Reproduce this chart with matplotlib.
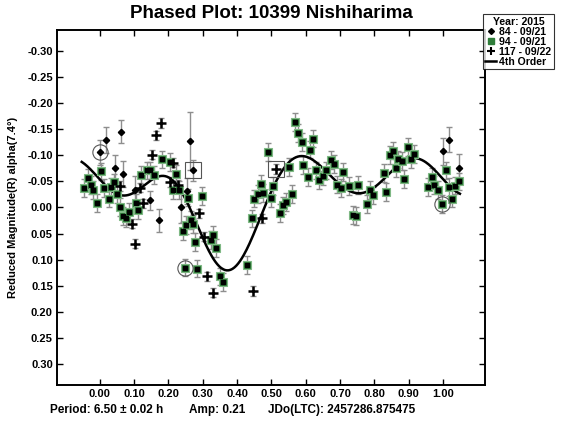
import numpy as np
import matplotlib
matplotlib.use("Agg")
import matplotlib.pyplot as plt
from matplotlib.lines import Line2D

plt.rcParams['font.family'] = ['Liberation Sans', 'DejaVu Sans']
plt.rcParams['font.weight'] = 'bold'

# 84 - 09/21 (diamonds)
d_phase = [0.000, 0.018, 0.063, 0.045, 0.069, 0.103, 0.147, 0.174, 0.236, 0.254, 0.262, 0.271,
           1.001, 1.018, 1.046]
d_mag = [-0.106, -0.129, -0.145, -0.075, -0.065, -0.033, -0.014, 0.024, 0.000, -0.032, -0.127, -0.071,
         -0.108, -0.130, -0.076]
d_err = [0.024, 0.025, 0.022, 0.025, 0.025, 0.028, 0.018, 0.022, 0.030, 0.025, 0.056, 0.020,
         0.026, 0.024, 0.026]

# 94 - 09/21 (green squares)
g_phase = [-0.045, -0.033, -0.026, -0.018, -0.008, 0.005, 0.014, 0.026, 0.032, 0.042, 0.052, 0.060,
           0.068, 0.077, 0.086, 0.105, 0.111, 0.120, 0.137, 0.147, 0.157, 0.183, 0.205, 0.215,
           0.223, 0.231, 0.242, 0.249, 0.252, 0.258, 0.265, 0.273, 0.278, 0.285, 0.297, 0.324,
           0.331, 0.339, 0.351, 0.358, 0.428, 0.443, 0.450, 0.460, 0.469, 0.477, 0.490, 0.498,
           0.506, 0.524, 0.533, 0.543, 0.550, 0.560, 0.569, 0.579, 0.588, 0.593, 0.606, 0.613,
           0.622, 0.630, 0.640, 0.650, 0.659, 0.673, 0.681, 0.692, 0.703, 0.710, 0.727, 0.737,
           0.746, 0.753, 0.778, 0.788, 0.795, 0.827, 0.834, 0.846, 0.854, 0.863, 0.870, 0.880,
           0.887, 0.897, 0.906, 0.914, 0.955, 0.967, 0.974, 0.986, 0.996, 1.008, 1.017, 1.025,
           1.035, 1.046]
g_mag = [-0.038, -0.057, -0.043, -0.033, -0.008, -0.069, -0.038, -0.017, -0.039, -0.048, -0.025, -0.001,
         0.017, 0.020, 0.008, -0.008, 0.005, -0.062, -0.071, -0.071, -0.062, -0.092, -0.087, -0.034,
         -0.065, -0.034, 0.045, 0.115, 0.034, -0.019, 0.024, 0.031, 0.066, 0.117, -0.022, 0.062,
         0.052, 0.078, 0.132, 0.142, 0.110, 0.021, -0.017, -0.026, -0.045, -0.028, -0.107, -0.018,
         -0.041, 0.011, -0.004, -0.010, -0.077, -0.026, -0.164, -0.143, -0.126, -0.082, -0.058, -0.111,
         -0.132, -0.071, -0.052, -0.060, -0.071, -0.091, -0.084, -0.044, -0.037, -0.068, -0.041, 0.014,
         0.017, -0.043, -0.007, -0.033, -0.023, -0.066, -0.029, -0.100, -0.109, -0.075, -0.092, -0.089,
         -0.055, -0.116, -0.093, -0.103, -0.039, -0.058, -0.043, -0.034, -0.007, -0.071, -0.039, -0.017,
         -0.042, -0.050]
g_err = 0.017

# 117 - 09/22 (plus signs)
p_phase = [0.060, 0.094, 0.103, 0.118, 0.127, 0.154, 0.163, 0.179, 0.205, 0.215, 0.229, 0.288,
           0.304, 0.312, 0.331, 0.448, 0.474, 0.514]
p_mag = [-0.041, 0.031, 0.069, -0.038, -0.008, -0.101, -0.138, -0.162, -0.049, -0.086, -0.043, 0.011,
         0.056, 0.132, 0.163, 0.160, 0.021, -0.074]
p_err = 0.009

# flagged points (circled / boxed)
circ_phase = [0.000, 0.249, 0.996]
circ_mag = [-0.106, 0.115, -0.007]
box_phase = [0.271, 0.514]
box_mag = [-0.071, -0.074]

# 4th order fit
curve_phase = [-0.052, 0.000, 0.030, 0.069, 0.110, 0.162, 0.200, 0.244, 0.283, 0.322, 0.365, 0.400,
               0.438, 0.467, 0.506, 0.544, 0.588, 0.661, 0.710, 0.768, 0.797, 0.836, 0.914, 0.972,
               1.010, 1.049]
curve_mag = [-0.086, -0.055, -0.036, -0.020, -0.038, -0.062, -0.052, -0.020, 0.031, 0.082, 0.117, 0.113,
             0.082, 0.010, -0.047, -0.079, -0.093, -0.069, -0.044, -0.025, -0.034, -0.063, -0.095, -0.076,
             -0.047, -0.021]


def fourier_design(ph, order=4):
    ph = np.asarray(ph)
    cols = [np.ones_like(ph)]
    for k in range(1, order + 1):
        cols.append(np.cos(2 * np.pi * k * ph))
        cols.append(np.sin(2 * np.pi * k * ph))
    return np.column_stack(cols)


# least squares fourier fit through the sampled curve
coef, *_ = np.linalg.lstsq(fourier_design(curve_phase), np.asarray(curve_mag), rcond=None)
fit_x = np.linspace(min(curve_phase), max(curve_phase), 400)
fit_y = fourier_design(fit_x) @ coef

fig = plt.figure(figsize=(5.61, 4.23), dpi=100)
ax = fig.add_axes([57 / 561, 1 - 385 / 423, 428 / 561, 355 / 423])

#error bars
ecol = '#8e8e8e'
ax.errorbar(d_phase, d_mag, yerr=d_err, fmt='none', ecolor=ecol, elinewidth=1, capsize=2, zorder=1)
ax.errorbar(g_phase, g_mag, yerr=g_err, fmt='none', ecolor=ecol, elinewidth=1, capsize=2, zorder=1)
ax.errorbar(p_phase, p_mag, yerr=p_err, fmt='none', ecolor=ecol, elinewidth=1, capsize=2, zorder=1)

ax.plot(fit_x, fit_y, color='black', lw=1.8, zorder=2)

#markers
ax.plot(g_phase, g_mag, 's', ms=6.3, mfc='#2f7d3a', mec='#7fb884', mew=0.8, zorder=3)
ax.plot(g_phase, g_mag, 's', ms=2.6, mfc='black', mec='black', zorder=4)
ax.plot(d_phase, d_mag, 'D', ms=3.2, color='black', zorder=4)
ax.plot(p_phase, p_mag, '+', ms=6.5, mew=1.8, color='black', zorder=4)

ax.plot(circ_phase, circ_mag, 'o', ms=11, mfc='none', mec='#555555', mew=0.8, zorder=5)
ax.plot(box_phase, box_mag, 's', ms=11, mfc='none', mec='#555555', mew=0.8, zorder=5)

ax.set_xlim(-0.124, 1.122)
ax.set_ylim(0.34, -0.34)
xt = np.arange(0, 1.01, 0.1)
ax.set_xticks(xt)
ax.set_xticklabels([f'{v:.2f}' for v in xt])
yt = np.arange(-0.30, 0.301, 0.05)
ax.set_yticks(yt)
ax.set_yticklabels([f'{v:.2f}' if abs(v) > 1e-9 else '0.00' for v in yt])
ax.tick_params(direction='in', length=4, width=1, top=True, right=True, labelsize=8, pad=3)
for s in ax.spines.values():
    s.set_linewidth(1.4)

fig.text(271 / 561, 1 - 13 / 423, 'Phased Plot: 10399 Nishiharima', ha='center', va='center',
         fontsize=13.5, fontweight='heavy')
fig.text(13 / 561, 1 - 207 / 423, 'Reduced Magnitude(R) alpha(7.4°)', rotation=90,
         ha='center', va='center', fontsize=8)
fig.text(50 / 561, 1 - 410 / 423, 'Period: 6.50 ± 0.02 h', ha='left', va='center', fontsize=8.5)
fig.text(189 / 561, 1 - 410 / 423, 'Amp: 0.21', ha='left', va='center', fontsize=8.5)
fig.text(268 / 561, 1 - 410 / 423, 'JDo(LTC): 2457286.875475', ha='left', va='center', fontsize=8.5)

# legend sits right of the axes, runs off the figure edge like the original
handles = [
    Line2D([], [], ls='none', marker='D', ms=3, color='black'),
    Line2D([], [], ls='none', marker='s', ms=5, mfc='#2f7d3a', mec='#2f7d3a'),
    Line2D([], [], ls='none', marker='+', ms=6, mew=1.5, color='black'),
    Line2D([], [], color='black', lw=1.8),
]
labels = ['84 - 09/21', '94 - 09/21', '117 - 09/22', '4th Order']
leg = ax.legend(handles, labels, title='Year: 2015', loc='upper left',
                bbox_to_anchor=(0.995, 1.045), borderaxespad=0, fontsize=7.6,
                title_fontsize=7.6, frameon=True, fancybox=False, edgecolor='black',
                handlelength=1.0, handletextpad=0.3, labelspacing=0.0, borderpad=0.25)
leg.get_frame().set_linewidth(0.8)
leg.get_title().set_fontweight('bold')

fig.savefig('out.png', dpi=100)
